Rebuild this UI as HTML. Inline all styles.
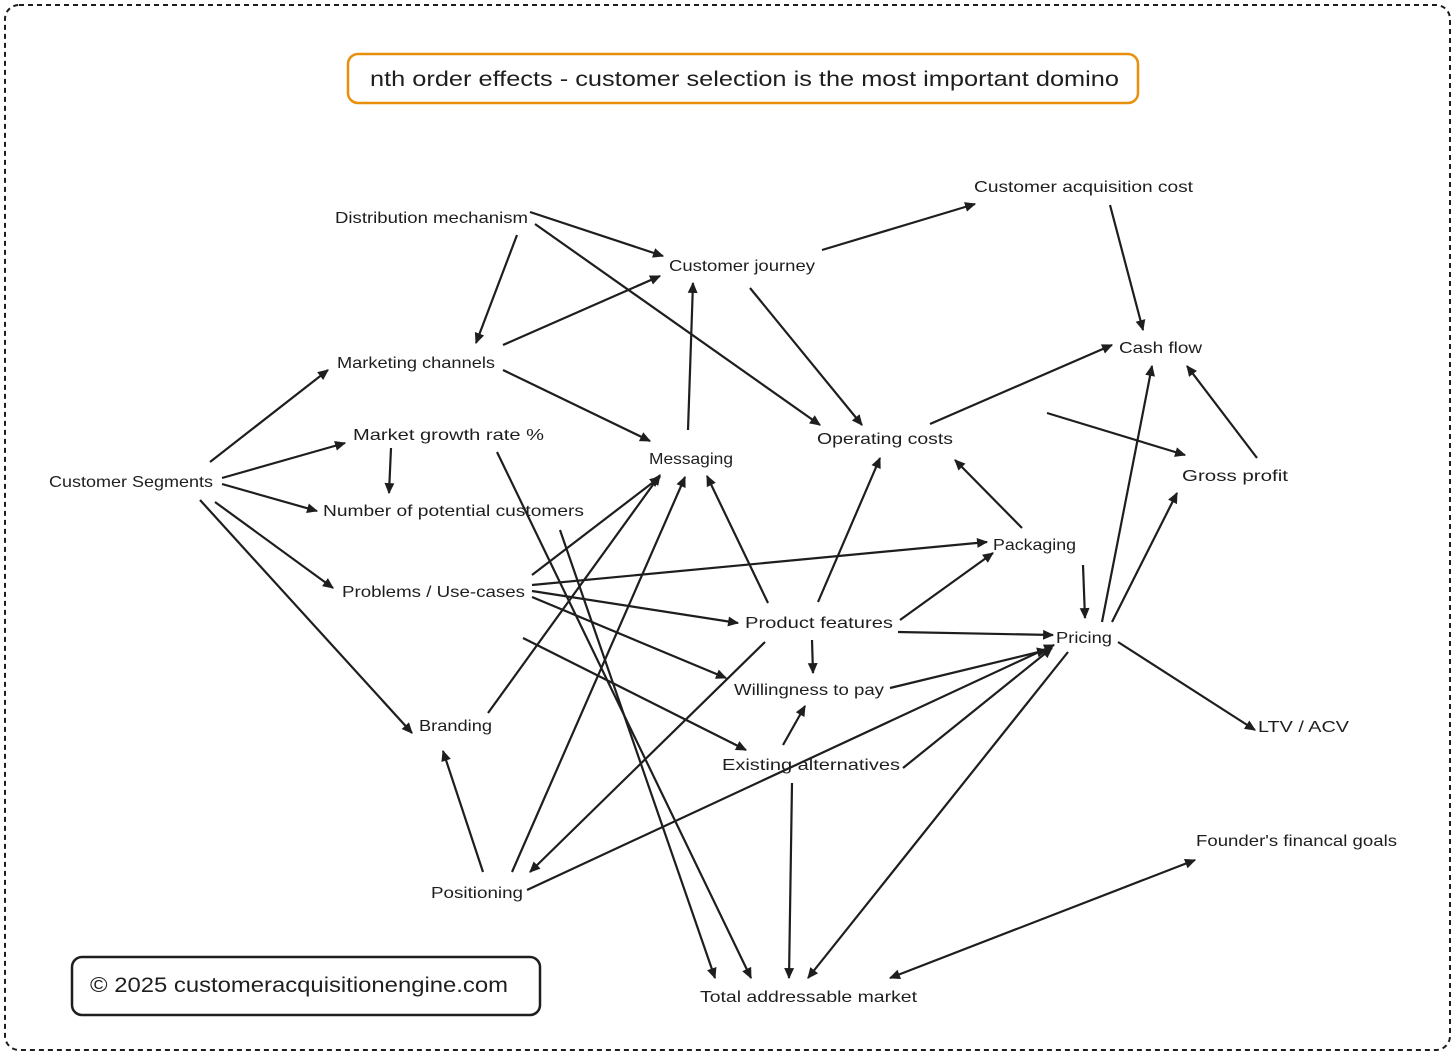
<!DOCTYPE html>
<html><head><meta charset="utf-8"><style>
html,body{margin:0;padding:0;background:#fff}
svg{display:block}
text{font-family:"Liberation Sans",sans-serif;font-size:16px;fill:#1e1e1e}
</style></head><body>
<svg width="1456" height="1057" viewBox="0 0 1456 1057" xmlns="http://www.w3.org/2000/svg">
<defs>
<marker id="a" viewBox="0 0 10 10" refX="9" refY="5" markerWidth="12" markerHeight="11" orient="auto-start-reverse" markerUnits="userSpaceOnUse"><path d="M0,0.5 L10,5 L0,9.5 z" fill="#1e1e1e"/></marker>
</defs>
<rect x="5" y="5" width="1445" height="1045" rx="14" fill="none" stroke="#1e1e1e" stroke-width="2" stroke-dasharray="5,4"/>
<rect x="348" y="54" width="790" height="49" rx="10" fill="none" stroke="#e8900c" stroke-width="2.5"/>
<text x="370" y="86" textLength="749" lengthAdjust="spacingAndGlyphs" style="font-size:21px">nth order effects - customer selection is the most important domino</text>
<rect x="72" y="957" width="468" height="58" rx="10" fill="none" stroke="#1e1e1e" stroke-width="2.5"/>
<text x="90" y="992" textLength="418" lengthAdjust="spacingAndGlyphs" style="font-size:21px">© 2025 customeracquisitionengine.com</text>
<g stroke="#1e1e1e" stroke-width="2.2" fill="none" marker-end="url(#a)">
<line x1="530" y1="212" x2="663" y2="256"/>
<line x1="535" y1="224" x2="820" y2="425"/>
<line x1="517" y1="235" x2="476" y2="343"/>
<line x1="503" y1="345" x2="660" y2="276"/>
<line x1="503" y1="370" x2="650" y2="441"/>
<line x1="822" y1="250" x2="975" y2="204"/>
<line x1="750" y1="288" x2="862" y2="425"/>
<line x1="688" y1="430" x2="693" y2="283"/>
<line x1="1110" y1="205" x2="1143" y2="330"/>
<line x1="930" y1="424" x2="1112" y2="345"/>
<line x1="1047" y1="413" x2="1185" y2="455"/>
<line x1="1257" y1="458" x2="1187" y2="366"/>
<line x1="210" y1="462" x2="328" y2="370"/>
<line x1="222" y1="478" x2="345" y2="443"/>
<line x1="222" y1="484" x2="317" y2="511"/>
<line x1="215" y1="502" x2="333" y2="588"/>
<line x1="200" y1="500" x2="412" y2="733"/>
<line x1="391" y1="448" x2="389" y2="493"/>
<line x1="497" y1="452" x2="751" y2="978"/>
<line x1="560" y1="530" x2="715" y2="978"/>
<line x1="532" y1="575" x2="660" y2="477"/>
<line x1="532" y1="585" x2="987" y2="542"/>
<line x1="532" y1="591" x2="738" y2="623"/>
<line x1="532" y1="597" x2="726" y2="678"/>
<line x1="523" y1="638" x2="746" y2="750"/>
<line x1="488" y1="713" x2="660" y2="475"/>
<line x1="483" y1="872" x2="443" y2="751"/>
<line x1="512" y1="872" x2="685" y2="477"/>
<line x1="527" y1="890" x2="1054" y2="645"/>
<line x1="768" y1="603" x2="707" y2="476"/>
<line x1="818" y1="602" x2="880" y2="458"/>
<line x1="900" y1="620" x2="993" y2="553"/>
<line x1="898" y1="632" x2="1053" y2="635"/>
<line x1="812" y1="640" x2="813" y2="673"/>
<line x1="765" y1="642" x2="530" y2="872"/>
<line x1="890" y1="688" x2="1047" y2="650"/>
<line x1="783" y1="745" x2="805" y2="706"/>
<line x1="903" y1="768" x2="1052" y2="648"/>
<line x1="792" y1="783" x2="789" y2="978"/>
<line x1="1022" y1="528" x2="955" y2="460"/>
<line x1="1083" y1="565" x2="1085" y2="618"/>
<line x1="1102" y1="622" x2="1152" y2="366"/>
<line x1="1112" y1="622" x2="1177" y2="493"/>
<line x1="1118" y1="642" x2="1255" y2="730"/>
<line x1="1068" y1="652" x2="808" y2="978"/>
<line x1="1195" y1="860" x2="890" y2="978" marker-start="url(#a)"/>
</g>
<g style="letter-spacing:0">
<text x="335" y="223" textLength="193" lengthAdjust="spacingAndGlyphs">Distribution mechanism</text>
<text x="669" y="271" textLength="146" lengthAdjust="spacingAndGlyphs">Customer journey</text>
<text x="974" y="192" textLength="219" lengthAdjust="spacingAndGlyphs">Customer acquisition cost</text>
<text x="1119" y="353" textLength="83" lengthAdjust="spacingAndGlyphs">Cash flow</text>
<text x="337" y="368" textLength="158" lengthAdjust="spacingAndGlyphs">Marketing channels</text>
<text x="353" y="440" textLength="191" lengthAdjust="spacingAndGlyphs">Market growth rate %</text>
<text x="817" y="444" textLength="136" lengthAdjust="spacingAndGlyphs">Operating costs</text>
<text x="649" y="464" textLength="84" lengthAdjust="spacingAndGlyphs">Messaging</text>
<text x="1182" y="481" textLength="106" lengthAdjust="spacingAndGlyphs">Gross profit</text>
<text x="49" y="487" textLength="164" lengthAdjust="spacingAndGlyphs">Customer Segments</text>
<text x="323" y="516" textLength="261" lengthAdjust="spacingAndGlyphs">Number of potential customers</text>
<text x="993" y="550" textLength="83" lengthAdjust="spacingAndGlyphs">Packaging</text>
<text x="342" y="597" textLength="183" lengthAdjust="spacingAndGlyphs">Problems / Use-cases</text>
<text x="745" y="628" textLength="148" lengthAdjust="spacingAndGlyphs">Product features</text>
<text x="1056" y="643" textLength="56" lengthAdjust="spacingAndGlyphs">Pricing</text>
<text x="734" y="695" textLength="150" lengthAdjust="spacingAndGlyphs">Willingness to pay</text>
<text x="419" y="731" textLength="73" lengthAdjust="spacingAndGlyphs">Branding</text>
<text x="1258" y="732" textLength="91" lengthAdjust="spacingAndGlyphs">LTV / ACV</text>
<text x="722" y="770" textLength="178" lengthAdjust="spacingAndGlyphs">Existing alternatives</text>
<text x="1196" y="846" textLength="201" lengthAdjust="spacingAndGlyphs">Founder's financal goals</text>
<text x="431" y="898" textLength="92" lengthAdjust="spacingAndGlyphs">Positioning</text>
<text x="700" y="1002" textLength="217" lengthAdjust="spacingAndGlyphs">Total addressable market</text>
</g>
</svg>
</body></html>
